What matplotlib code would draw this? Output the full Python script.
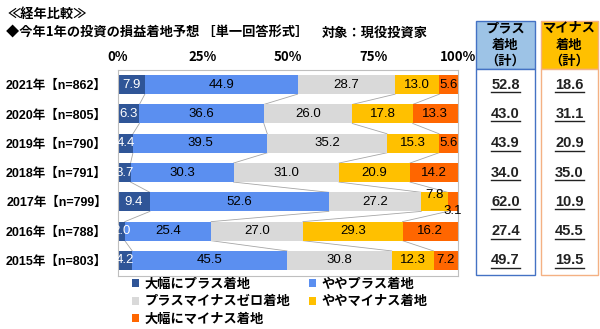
import matplotlib
matplotlib.use("Agg")
import matplotlib.pyplot as plt
import matplotlib.transforms as mtransforms
from matplotlib.patches import Rectangle, Patch
from matplotlib.lines import Line2D
import numpy as np

plt.rcParams['font.family'] = ['Liberation Sans', 'Noto Sans CJK JP', 'DejaVu Sans']

# ---------------- data ----------------
years = ["2021年【n=862】", "2020年【n=805】", "2019年【n=790】", "2018年【n=791】",
         "2017年【n=799】", "2016年【n=788】", "2015年【n=803】"]
series_names = ["大幅にプラス着地", "ややプラス着地", "プラスマイナスゼロ着地",
                "ややマイナス着地", "大幅にマイナス着地"]
big_plus   = [7.9, 6.3, 4.4, 3.7, 9.4, 2.0, 4.2]
some_plus  = [44.9, 36.6, 39.5, 30.3, 52.6, 25.4, 45.5]
zero       = [28.7, 26.0, 35.2, 31.0, 27.2, 27.0, 30.8]
some_minus = [13.0, 17.8, 15.3, 20.9, 7.8, 29.3, 12.3]
big_minus  = [5.6, 13.3, 5.6, 14.2, 3.1, 16.2, 7.2]
plus_total  = [52.8, 43.0, 43.9, 34.0, 62.0, 27.4, 49.7]
minus_total = [18.6, 31.1, 20.9, 35.0, 10.9, 45.5, 19.5]
x_ticks = [0, 25, 50, 75, 100]
x_tick_labels = ["0%", "25%", "50%", "75%", "100%"]
title1 = "≪経年比較≫"
title2 = "◆今年1年の投資の損益着地予想 ［単一回答形式］"
title3 = "対象：現役投資家"
plus_header = ["プラス", "着地", "（計）"]
minus_header = ["マイナス", "着地", "（計）"]

colors = ["#2F5597", "#5B8FF0", "#D9D9D9", "#FFC000", "#FF6600"]
text_colors = ["white", "black", "black", "black", "black"]

W, H = 600, 329
fig = plt.figure(figsize=(W / 100, H / 100), dpi=100)

def fx(x):
    return x / W

def fy(y):
    return 1 - y / H

cjk = ['Noto Sans CJK JP', 'DejaVu Sans']
mix = ['Liberation Sans', 'Noto Sans CJK JP', 'DejaVu Sans']

ax = fig.add_axes([fx(118), fy(276), fx(458) - fx(118), fy(70) - fy(276)])
n = len(years)
ypos = np.arange(n)
bh = 0.65
data = np.array([big_plus, some_plus, zero, some_minus, big_minus])
left = np.zeros(n)
cums = [left.copy()]
for k in range(5):
    ax.barh(ypos, data[k], left=left, height=bh, color=colors[k], edgecolor='none', zorder=2)
    for i in range(n):
        v = data[k][i]
        cx = left[i] + v / 2
        cy = ypos[i]
        if years[i].startswith("2017") and k == 3:
            cy -= 0.22
        if years[i].startswith("2017") and k == 4:
            cy += 0.3
        ax.text(cx, cy, f"{v:.1f}", ha='center', va='center', fontsize=9.5,
                color=text_colors[k], zorder=4)
    left = left + data[k]
    cums.append(left.copy())

# series connector lines
for k in range(1, 5):
    c = cums[k]
    for i in range(n - 1):
        ax.plot([c[i], c[i + 1]], [ypos[i] + bh / 2, ypos[i + 1] - bh / 2],
                color='#A6A6A6', lw=0.6, zorder=1)

ax.set_xlim(0, 100)
ax.set_ylim(n - 1 + 0.53, -0.5)
ax.set_yticks(ypos)
ax.set_yticklabels(years, fontsize=9, fontweight='bold', family=mix)
ax.set_xticks(x_ticks)
ax.set_xticklabels(x_tick_labels, fontsize=9.5, fontweight='bold', family=cjk)
ax.xaxis.tick_top()
ax.tick_params(axis='both', length=0)
ax.tick_params(axis='x', pad=4)
ax.tick_params(axis='y', pad=8)
for s in ax.spines.values():
    s.set_color('#BFBFBF')
    s.set_linewidth(0.8)

# titles
fig.text(fx(8), fy(14), title1, fontsize=9.5, fontweight='bold', family=cjk, va='center', ha='left')
fig.text(fx(6), fy(33), title2, fontsize=9.5, fontweight='bold', family=cjk, va='center', ha='left')
fig.text(fx(322), fy(33), title3, fontsize=9.5, fontweight='bold', family=cjk, va='center', ha='left')

# right boxes
boxes = [
    (476, 535, "#9DC3E6", "#4472C4", plus_header, plus_total),
    (541, 598, "#FFC000", "#F4B183", minus_header, minus_total),
]
blend = mtransforms.blended_transform_factory(fig.transFigure, ax.transData)
value_texts = []
for x0, x1, fill, edge, header, totals in boxes:
    fig.add_artist(Rectangle((fx(x0), fy(69)), fx(x1) - fx(x0), fy(21) - fy(69),
                             transform=fig.transFigure, facecolor=fill, edgecolor=edge,
                             lw=1, zorder=-2))
    fig.add_artist(Rectangle((fx(x0), fy(275)), fx(x1) - fx(x0), fy(69) - fy(275),
                             transform=fig.transFigure, facecolor='white', edgecolor=edge,
                             lw=1, zorder=-2))
    xc = fx((x0 + x1) / 2)
    for j, line in enumerate(header):
        fig.text(xc, fy(28 + 16.5 * j), line, fontsize=9.5, fontweight='bold', family=cjk,
                 ha='center', va='center')
    for i, v in enumerate(totals):
        t = ax.text(xc, ypos[i], f"{v:.1f}", transform=blend, ha='center', va='center',
                    fontsize=10.5, fontweight='bold', color='#222222', clip_on=False)
        value_texts.append(t)

# legend
handles = [Patch(facecolor=c, edgecolor='none') for c in colors]
order = [0, 2, 4, 1, 3]
leg = fig.legend([handles[i] for i in order], [series_names[i] for i in order],
                 ncol=2, loc='upper left', bbox_to_anchor=(fx(132), fy(277)),
                 frameon=False, handlelength=0.55, handleheight=0.55, borderpad=0,
                 borderaxespad=0, handletextpad=0.4, columnspacing=1.4, labelspacing=0.25,
                 prop={'family': cjk, 'weight': 'bold', 'size': 9.5})

# underlines
fig.canvas.draw()
r = fig.canvas.get_renderer()
for t in value_texts:
    bb = t.get_window_extent(r)
    yline = bb.y0 - 0.5
    fig.add_artist(Line2D([bb.x0 / W, bb.x1 / W], [yline / H, yline / H],
                          transform=fig.transFigure, color='#222222', lw=1))

fig.savefig("out.png", dpi=100)
